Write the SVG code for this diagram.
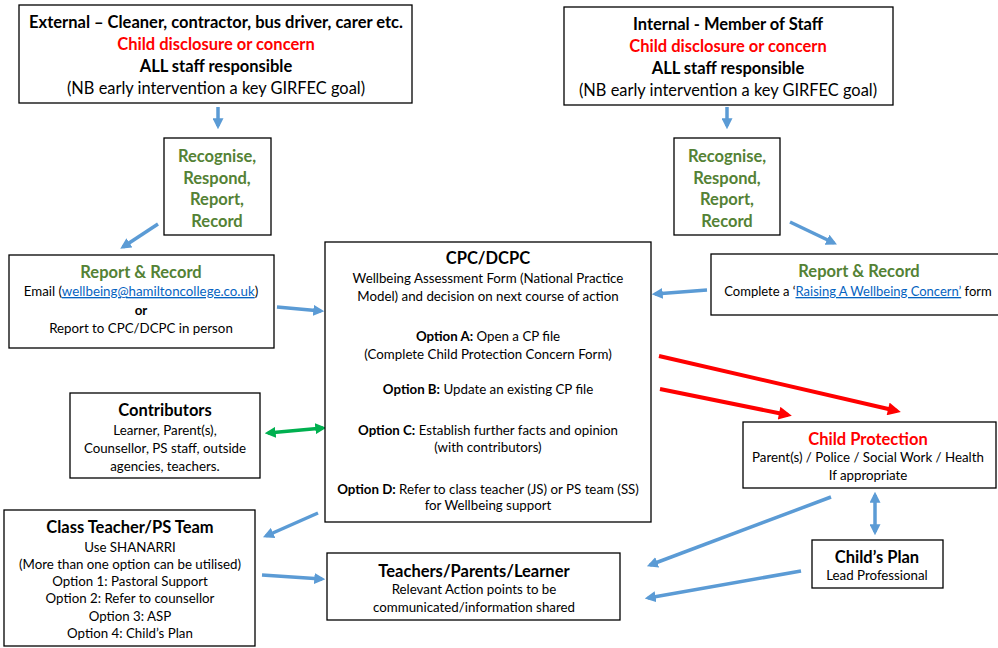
<svg xmlns="http://www.w3.org/2000/svg" width="998" height="648" viewBox="0 0 998 648">
<style>
text{font-family:Lato,"Liberation Sans",sans-serif;fill:#000;text-anchor:middle}
.box{fill:#fff;stroke:#000;stroke-width:1.3}
.t{font-size:16.5px;font-weight:bold}
.n{font-size:16.4px}
.s{font-size:13.3px}
.b{font-weight:bold}
.red{fill:#FF0000}
.grn{fill:#548235}
.lnk{fill:#0563C1;text-decoration:underline}
.blue{stroke:#5B9BD5;stroke-width:3.5;fill:none}
.redl{stroke:#FF0000;stroke-width:4;fill:none}
.green{stroke:#00B050;stroke-width:3.5;fill:none}
</style>
<defs>
<marker id="ab" viewBox="0 0 10 10" refX="7" refY="5" markerWidth="11" markerHeight="11" markerUnits="userSpaceOnUse" orient="auto-start-reverse"><path d="M0,0 L10,5 L0,10 z" fill="#5B9BD5"/></marker>
<marker id="ar" viewBox="0 0 10 10" refX="7" refY="5" markerWidth="14" markerHeight="13" markerUnits="userSpaceOnUse" orient="auto"><path d="M0,0 L10,5 L0,10 z" fill="#FF0000"/></marker>
<marker id="ag" viewBox="0 0 10 10" refX="7" refY="5" markerWidth="11" markerHeight="11" markerUnits="userSpaceOnUse" orient="auto-start-reverse"><path d="M0,0 L10,5 L0,10 z" fill="#00B050"/></marker>
</defs>

<g id="connectors">
<line class="blue" x1="218" y1="107" x2="218" y2="126" marker-end="url(#ab)"/>
<line class="blue" x1="727" y1="107" x2="727" y2="126" marker-end="url(#ab)"/>
<line class="blue" x1="158" y1="224" x2="123" y2="247" marker-end="url(#ab)"/>
<line class="blue" x1="790" y1="222" x2="834" y2="243" marker-end="url(#ab)"/>
<line class="blue" x1="277" y1="307" x2="321" y2="311" marker-end="url(#ab)"/>
<line class="blue" x1="707" y1="290" x2="655" y2="294" marker-end="url(#ab)"/>
<line class="green" x1="268" y1="433" x2="323" y2="428" marker-start="url(#ag)" marker-end="url(#ag)"/>
<line class="redl" x1="659" y1="356" x2="897" y2="411" marker-end="url(#ar)"/>
<line class="redl" x1="660" y1="389" x2="788" y2="415" marker-end="url(#ar)"/>
<line class="blue" x1="875" y1="495" x2="875" y2="532" marker-start="url(#ab)" marker-end="url(#ab)"/>
<line class="blue" x1="318" y1="513" x2="266" y2="536" marker-end="url(#ab)"/>
<line class="blue" x1="262" y1="575" x2="322" y2="579" marker-end="url(#ab)"/>
<line class="blue" x1="831" y1="497" x2="650" y2="565" marker-end="url(#ab)"/>
<line class="blue" x1="801" y1="571" x2="648" y2="598" marker-end="url(#ab)"/>
</g>

<g id="external">
<rect class="box" x="19" y="5" width="393" height="98"/>
<text class="t" x="216" y="28">External – Cleaner, contractor, bus driver, carer etc.</text>
<text class="t red" x="216" y="50">Child disclosure or concern</text>
<text class="t" x="216" y="72">ALL staff responsible</text>
<text class="n" x="216" y="94">(NB early intervention a key GIRFEC goal)</text>
</g>

<g id="internal">
<rect class="box" x="564" y="7" width="329" height="98"/>
<text class="t" x="728" y="30">Internal - Member of Staff</text>
<text class="t red" x="728" y="52">Child disclosure or concern</text>
<text class="t" x="728" y="74">ALL staff responsible</text>
<text class="n" x="728" y="96">(NB early intervention a key GIRFEC goal)</text>
</g>

<g id="recognise-left">
<rect class="box" x="164" y="138" width="107" height="97"/>
<text class="t grn" x="217" y="162">Recognise,</text>
<text class="t grn" x="217" y="184">Respond,</text>
<text class="t grn" x="217" y="205">Report,</text>
<text class="t grn" x="217" y="227">Record</text>
</g>

<g id="recognise-right">
<rect class="box" x="674" y="138" width="106" height="97"/>
<text class="t grn" x="727" y="162">Recognise,</text>
<text class="t grn" x="727" y="184">Respond,</text>
<text class="t grn" x="727" y="205">Report,</text>
<text class="t grn" x="727" y="227">Record</text>
</g>

<g id="report-left">
<rect class="box" x="9" y="255" width="265" height="93"/>
<text class="t grn" x="141" y="278">Report &amp; Record</text>
<text class="s" x="141" y="296">Email (<tspan class="lnk">wellbeing@hamiltoncollege.co.uk</tspan>)</text>
<text class="s b" x="141" y="315">or</text>
<text class="s" x="141" y="333">Report to CPC/DCPC in person</text>
</g>

<g id="report-right">
<rect class="box" x="711" y="254" width="300" height="61"/>
<text class="t grn" x="859" y="277">Report &amp; Record</text>
<text x="858" y="296" style="font-size:13px">Complete a ‘<tspan class="lnk">Raising A Wellbeing Concern’</tspan> form</text>
</g>

<g id="cpc">
<rect class="box" x="325" y="242" width="326" height="280"/>
<text class="t" x="488" y="264">CPC/DCPC</text>
<text class="s" x="488" y="283">Wellbeing Assessment Form (National Practice</text>
<text class="s" x="488" y="301">Model) and decision on next course of action</text>
<text class="s" x="488" y="341"><tspan class="b">Option A:</tspan> Open a CP file</text>
<text class="s" x="488" y="359">(Complete Child Protection Concern Form)</text>
<text class="s" x="488" y="394"><tspan class="b">Option B:</tspan> Update an existing CP file</text>
<text class="s" x="488" y="435"><tspan class="b">Option C:</tspan> Establish further facts and opinion</text>
<text class="s" x="488" y="452">(with contributors)</text>
<text class="s" x="488" y="494"><tspan class="b">Option D:</tspan> Refer to class teacher (JS) or PS team (SS)</text>
<text class="s" x="488" y="510">for Wellbeing support</text>
</g>

<g id="contributors">
<rect class="box" x="70" y="393" width="190" height="85"/>
<text class="t" x="165" y="416">Contributors</text>
<text class="s" x="165" y="435">Learner, Parent(s),</text>
<text class="s" x="165" y="453">Counsellor, PS staff, outside</text>
<text class="s" x="165" y="471">agencies, teachers.</text>
</g>

<g id="child-protection">
<rect class="box" x="743" y="422" width="253" height="66"/>
<text class="t red" x="868" y="445">Child Protection</text>
<text class="s" x="868" y="462">Parent(s) / Police / Social Work / Health</text>
<text class="s" x="868" y="480">If appropriate</text>
</g>

<g id="childs-plan">
<rect class="box" x="812" y="540" width="131" height="48"/>
<text class="t" x="877" y="563">Child’s Plan</text>
<text class="s" x="877" y="580">Lead Professional</text>
</g>

<g id="class-teacher">
<rect class="box" x="4" y="510" width="251" height="136"/>
<text class="t" x="130" y="533">Class Teacher/PS Team</text>
<text class="s" x="130" y="552">Use SHANARRI</text>
<text class="s" x="130" y="569">(More than one option can be utilised)</text>
<text class="s" x="130" y="586">Option 1: Pastoral Support</text>
<text class="s" x="130" y="603">Option 2: Refer to counsellor</text>
<text class="s" x="130" y="621">Option 3: ASP</text>
<text class="s" x="130" y="638">Option 4: Child’s Plan</text>
</g>

<g id="teachers-parents">
<rect class="box" x="327" y="553" width="293" height="67"/>
<text class="t" x="474" y="577">Teachers/Parents/Learner</text>
<text class="s" x="474" y="594">Relevant Action points to be</text>
<text class="s" x="474" y="612">communicated/information shared</text>
</g>
</svg>
